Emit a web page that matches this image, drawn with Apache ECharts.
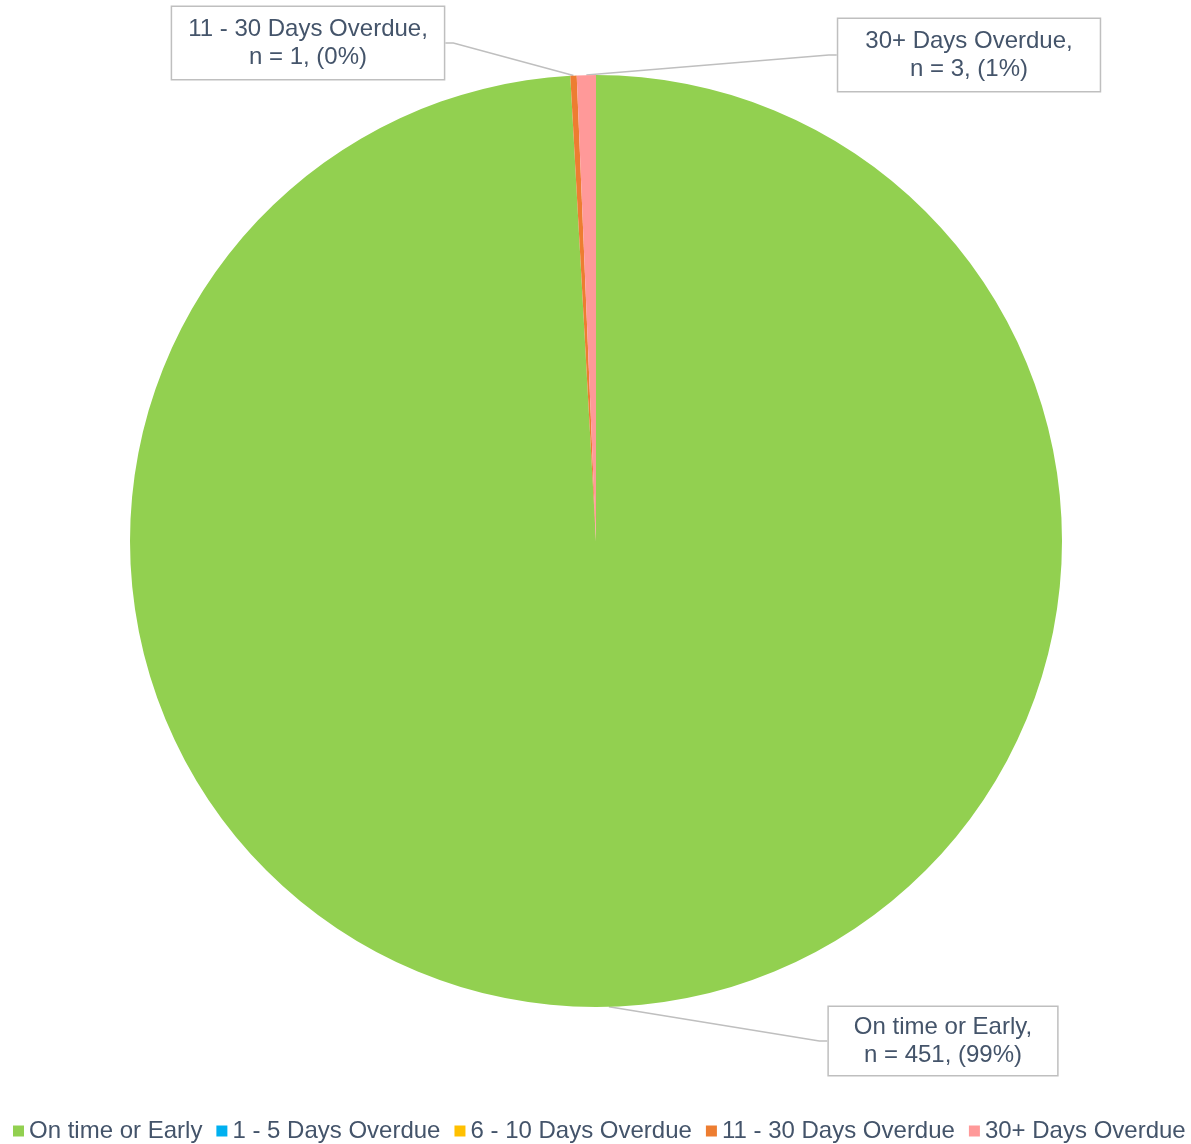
<!DOCTYPE html>
<html>
<head>
<meta charset="utf-8">
<title>Overdue status</title>
<script src="https://cdn.jsdelivr.net/npm/echarts@6/dist/echarts.min.js"></script>
<style>
  html, body { margin: 0; padding: 0; background: #ffffff; }
  #chart { width: 1191px; height: 1144px; }
</style>
</head>
<body>
<div id="chart"></div>
<script>
// Status categories, counts and slice colours
const categories = ['On time or Early', '1 - 5 Days Overdue', '6 - 10 Days Overdue', '11 - 30 Days Overdue', '30+ Days Overdue'];
const counts = [451, 0, 0, 1, 3];
const colors = ['#92D050', '#00B0F0', '#FFC000', '#ED7D31', '#FF9999'];

// Callout box centres and paddings for the labelled slices (by data index)
const calloutPos = {
  0: [943, 1041],
  3: [308, 43],
  4: [969, 55]
};
const calloutPad = {
  0: [8, 25, 4, 25],
  3: [10, 16, 6, 16],
  4: [10, 27, 6, 27]
};

const textColor = '#44546A';
const total = counts.reduce((a, b) => a + b, 0);

const chart = echarts.init(document.getElementById('chart'), null, { renderer: 'canvas' });

const data = categories.map((name, i) => ({
  name: name,
  value: counts[i],
  itemStyle: { color: colors[i] },
  label: { show: counts[i] > 0, padding: calloutPad[i] || [8, 16, 8, 16] },
  labelLine: { show: counts[i] > 0 }
}));

chart.setOption({
  animation: false,
  backgroundColor: '#ffffff',
  textStyle: { fontFamily: 'Liberation Sans, Arial, sans-serif' },
  legend: {
    data: categories,
    left: 13,
    top: 1119,
    width: 1178,
    padding: 0,
    icon: 'rect',
    itemWidth: 11,
    itemHeight: 11,
    itemGap: 14,
    textStyle: { color: textColor, fontSize: 24, fontFamily: 'Liberation Sans, Arial, sans-serif' }
  },
  series: [{
    type: 'pie',
    center: [596, 541],
    radius: 466,
    startAngle: 90,
    clockwise: true,
    avoidLabelOverlap: false,
    stillShowZeroSum: false,
    itemStyle: { borderWidth: 0 },
    label: {
      position: 'outside',
      color: textColor,
      fontSize: 24,
      lineHeight: 28,
      fontFamily: 'Liberation Sans, Arial, sans-serif',
      align: 'center',
      backgroundColor: '#ffffff',
      borderColor: '#bfbfbf',
      borderWidth: 1.5,
      formatter: function (p) {
        const pct = Math.round(p.value / total * 100);
        return p.name + ',\nn = ' + p.value + ', (' + pct + '%)';
      }
    },
    labelLine: {
      show: true,
      length: 8,
      length2: 8,
      lineStyle: { color: '#bfbfbf', width: 1.5 }
    },
    labelLayout: function (params) {
      const pos = calloutPos[params.dataIndex];
      if (!pos) return {};
      return { x: pos[0], y: pos[1], align: 'center', verticalAlign: 'middle' };
    },
    emphasis: { disabled: true },
    data: data
  }]
});
</script>
</body>
</html>
